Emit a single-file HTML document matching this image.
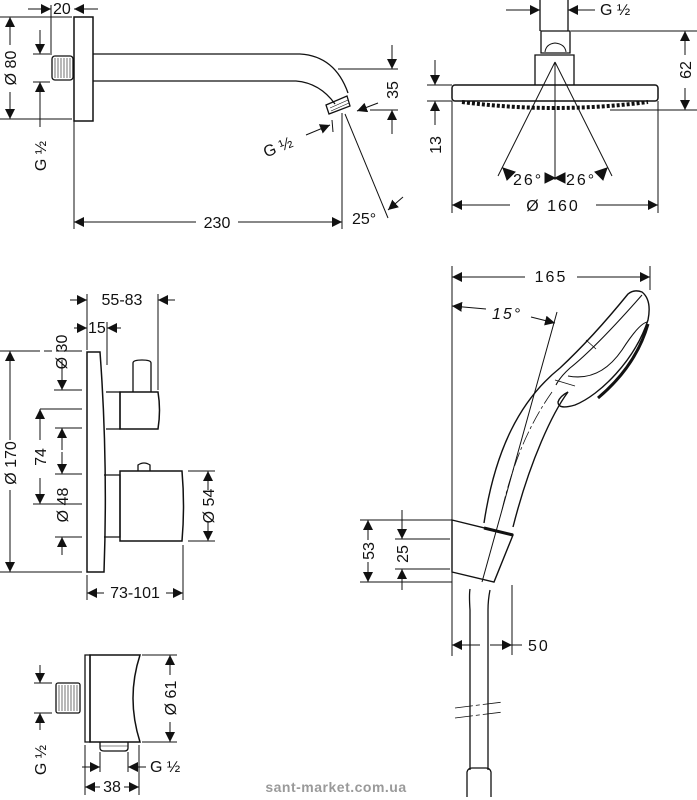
<!DOCTYPE html>
<html><head><meta charset="utf-8"><style>
html,body{margin:0;padding:0;background:#fff;}
svg{display:block;}
text{font-family:"Liberation Sans","DejaVu Sans",sans-serif;fill:#111;}
</style></head><body>
<svg width="697" height="800" viewBox="0 0 697 800" xmlns="http://www.w3.org/2000/svg">
<defs>
<marker id="a" viewBox="0 0 10 10" refX="10" refY="5" markerWidth="10" markerHeight="10" markerUnits="userSpaceOnUse" orient="auto-start-reverse"><path d="M0,0L10,5L0,10Z" fill="#111"/></marker>
</defs>
<g stroke="#111" stroke-width="1" fill="none">
<!-- ===== Wall arm ===== -->
<rect x="74" y="17" width="19" height="104" stroke-width="1.5"/>
<rect x="52" y="56" width="21" height="24" rx="3" stroke-width="1.3"/>
<path d="M55,58v20M58,58v20M61,58v20M64,58v20M67,58v20M70,58v20" stroke-width="0.6"/>
<path d="M93,54H300Q335,56 348,93" stroke-width="1.3"/>
<path d="M93,81H296Q320,83 335,104" stroke-width="1.3"/>
<path d="M326,105L347,96L350,106L329,114Z" stroke-width="1.3"/>
<path d="M330,108l18,-8M331,111l18,-8" stroke-width="0.6"/>
<line x1="28" y1="9" x2="51" y2="9" marker-end="url(#a)"/>
<line x1="98" y1="9" x2="74" y2="9" marker-end="url(#a)"/>
<line x1="51" y1="5" x2="51" y2="55"/>
<line x1="0" y1="17" x2="72" y2="17"/><line x1="0" y1="119" x2="72" y2="119"/>
<line x1="10" y1="45" x2="10" y2="17" marker-end="url(#a)"/>
<line x1="10" y1="92" x2="10" y2="119" marker-end="url(#a)"/>
<line x1="40" y1="30" x2="40" y2="54" marker-end="url(#a)"/>
<line x1="40" y1="127" x2="40" y2="82" marker-end="url(#a)"/>
<line x1="33" y1="54" x2="50" y2="54"/><line x1="33" y1="82" x2="50" y2="82"/>
<line x1="74" y1="121" x2="74" y2="229"/><line x1="342" y1="113" x2="342" y2="229"/>
<line x1="196" y1="222" x2="74" y2="222" marker-end="url(#a)"/>
<line x1="238" y1="222" x2="342" y2="222" marker-end="url(#a)"/>
<line x1="338" y1="69" x2="398" y2="69"/><line x1="370" y1="110" x2="398" y2="110"/>
<line x1="392" y1="45" x2="392" y2="69" marker-end="url(#a)"/>
<line x1="392" y1="134" x2="392" y2="110" marker-end="url(#a)"/>
<line x1="378" y1="103" x2="357" y2="111" marker-end="url(#a)"/>
<line x1="306" y1="135" x2="330" y2="125" marker-end="url(#a)"/>
<line x1="332" y1="120" x2="333" y2="132"/>
<line x1="345" y1="114" x2="388" y2="218"/>
<line x1="403" y1="197" x2="388" y2="210" marker-end="url(#a)"/>
<!-- ===== Head shower ===== -->
<path d="M540,0V31M568,0V31" stroke-width="1.3"/>
<path d="M541,31H570V53H541Z" stroke-width="1.3"/>
<path d="M545,52Q546,44 555,43Q565,44 566,52" stroke-width="1"/>
<path d="M535,85V55H574V85" stroke-width="1.3"/>
<rect x="452" y="85" width="206" height="16" rx="3" stroke-width="1.5"/>
<path d="M462,102Q555,114 648,102" stroke-width="4" stroke-dasharray="3 2"/>
<line x1="506" y1="10" x2="540" y2="10" marker-end="url(#a)"/>
<line x1="595" y1="10" x2="568" y2="10" marker-end="url(#a)"/>
<line x1="571" y1="31" x2="697" y2="31"/><line x1="610" y1="110" x2="697" y2="110"/>
<line x1="685" y1="55" x2="685" y2="31" marker-end="url(#a)"/>
<line x1="685" y1="88" x2="685" y2="110" marker-end="url(#a)"/>
<line x1="427" y1="85" x2="452" y2="85"/><line x1="427" y1="101" x2="452" y2="101"/>
<line x1="435" y1="60" x2="435" y2="85" marker-end="url(#a)"/>
<line x1="435" y1="125" x2="435" y2="101" marker-end="url(#a)"/>
<line x1="555" y1="62" x2="498" y2="176"/><line x1="555" y1="62" x2="612" y2="176"/>
<line x1="555" y1="62" x2="555" y2="180"/>
<path d="M503,168l12,4l-8,8Z" fill="#111"/><path d="M607,168l-12,4l8,8Z" fill="#111"/>
<path d="M545,173l10,5l-10,5Z M565,173l-10,5l10,5Z" fill="#111"/>
<line x1="452" y1="101" x2="452" y2="213"/><line x1="658" y1="101" x2="658" y2="213"/>
<line x1="510" y1="205" x2="452" y2="205" marker-end="url(#a)"/>
<line x1="596" y1="205" x2="658" y2="205" marker-end="url(#a)"/>
<!-- ===== Thermostat ===== -->
<path d="M87,352H100Q108,460 104,572H87Z" stroke-width="1.5"/>
<path d="M106,392H120V429H106" stroke-width="1.3"/>
<path d="M120,392H158Q161,410 158,429H120Z" stroke-width="1.5"/>
<path d="M133,392V363Q133,360 142,360Q151,360 151,363V392" stroke-width="1.3"/>
<path d="M104,475H120V537H104" stroke-width="1.3"/>
<path d="M120,471H182Q185,506 182,541H120Z" stroke-width="1.5"/>
<path d="M138,471V465Q144,461 150,465V471" stroke-width="1.3"/>
<line x1="87" y1="294" x2="87" y2="350"/><line x1="158" y1="294" x2="158" y2="390"/>
<line x1="107" y1="322" x2="107" y2="365"/>
<line x1="70" y1="300" x2="87" y2="300" marker-end="url(#a)"/>
<line x1="175" y1="300" x2="158" y2="300" marker-end="url(#a)"/>
<line x1="74" y1="328" x2="87" y2="328" marker-end="url(#a)"/>
<line x1="121" y1="328" x2="107" y2="328" marker-end="url(#a)"/>
<line x1="0" y1="351" x2="82" y2="351" stroke-dasharray="40 4 8 4"/>
<line x1="0" y1="572" x2="82" y2="572"/>
<line x1="10" y1="440" x2="10" y2="351" marker-end="url(#a)"/>
<line x1="10" y1="490" x2="10" y2="572" marker-end="url(#a)"/>
<line x1="54" y1="390" x2="82" y2="390"/>
<line x1="62" y1="360" x2="62" y2="390" marker-end="url(#a)"/>
<line x1="40" y1="409" x2="82" y2="409"/><line x1="33" y1="504" x2="82" y2="504"/>
<line x1="40" y1="440" x2="40" y2="409" marker-end="url(#a)"/>
<line x1="40" y1="478" x2="40" y2="504" marker-end="url(#a)"/>
<line x1="55" y1="428" x2="82" y2="428"/><line x1="55" y1="474" x2="82" y2="474"/>
<line x1="62" y1="450" x2="62" y2="428" marker-end="url(#a)"/>
<line x1="62" y1="452" x2="62" y2="474" marker-end="url(#a)"/>
<line x1="55" y1="537" x2="82" y2="537"/>
<line x1="62" y1="555" x2="62" y2="537" marker-end="url(#a)"/>
<line x1="188" y1="471" x2="215" y2="471"/><line x1="188" y1="541" x2="215" y2="541"/>
<line x1="208" y1="490" x2="208" y2="471" marker-end="url(#a)"/>
<line x1="208" y1="522" x2="208" y2="541" marker-end="url(#a)"/>
<line x1="87" y1="575" x2="87" y2="600"/><line x1="183" y1="545" x2="183" y2="600"/>
<line x1="104" y1="593" x2="87" y2="593" marker-end="url(#a)"/>
<line x1="166" y1="593" x2="183" y2="593" marker-end="url(#a)"/>
<!-- ===== Outlet ===== -->
<path d="M85,655H90V742H85Z" stroke-width="1.3"/>
<path d="M90,655H140Q126,698 140,742H90Z" stroke-width="1.5"/>
<rect x="56" y="683" width="24" height="30" rx="2" stroke-width="1.3"/>
<path d="M59,685v26M62,685v26M65,685v26M68,685v26M71,685v26M74,685v26M77,685v26" stroke-width="0.6"/>
<path d="M100,742V748Q100,751 104,751H124Q128,751 128,748V742" stroke-width="1.3"/>
<line x1="100" y1="746" x2="128" y2="746" stroke-width="0.6"/>
<line x1="34" y1="683" x2="52" y2="683"/><line x1="34" y1="713" x2="52" y2="713"/>
<line x1="40" y1="665" x2="40" y2="683" marker-end="url(#a)"/>
<line x1="40" y1="730" x2="40" y2="713" marker-end="url(#a)"/>
<line x1="142" y1="655" x2="177" y2="655"/><line x1="142" y1="742" x2="177" y2="742"/>
<line x1="170" y1="675" x2="170" y2="655" marker-end="url(#a)"/>
<line x1="170" y1="722" x2="170" y2="742" marker-end="url(#a)"/>
<line x1="85" y1="745" x2="85" y2="795"/><line x1="139" y1="745" x2="139" y2="795"/>
<line x1="100" y1="752" x2="100" y2="772"/><line x1="128" y1="752" x2="128" y2="772"/>
<line x1="82" y1="767" x2="100" y2="767" marker-end="url(#a)"/>
<line x1="146" y1="767" x2="128" y2="767" marker-end="url(#a)"/>
<line x1="100" y1="787" x2="85" y2="787" marker-end="url(#a)"/>
<line x1="124" y1="787" x2="139" y2="787" marker-end="url(#a)"/>
<!-- ===== Hand shower ===== -->
<line x1="452" y1="266" x2="452" y2="656"/><line x1="650" y1="266" x2="650" y2="290"/>
<line x1="525" y1="277" x2="452" y2="277" marker-end="url(#a)"/>
<line x1="577" y1="277" x2="650" y2="277" marker-end="url(#a)"/>
<line x1="486" y1="309" x2="452" y2="306" marker-end="url(#a)"/>
<line x1="531" y1="317" x2="555" y2="323" marker-end="url(#a)"/>
<line x1="557" y1="312" x2="482" y2="582"/>
<path d="M484,523C495,450 520,400 560,368C590,340 615,310 628,294Q634,289 642,292Q652,300 648,320C635,360 600,395 575,405Q558,410 558,402Q560,396 568,392C553,412 530,460 513,527" stroke-width="1.4"/>
<path d="M642,295C620,320 590,352 570,368Q560,377 556,385" stroke-width="1.1"/>
<path d="M568,376Q600,382 622,350Q640,322 648,322" stroke-width="1.1"/>
<path d="M648,324Q636,366 598,398" stroke-width="3"/>
<path d="M586,340l10,9M555,380l20,6" stroke-width="0.8"/>
<path d="M552,392Q518,440 502,510" stroke-width="0.8" stroke-dasharray="14 3 3 3"/>
<path d="M452,520L513,535L494,582L452,572Z" stroke-width="1.4"/>
<path d="M484,528L513,535" stroke-width="3"/>
<path d="M470,589Q469,595 470,610V770M490,590Q488,600 488,610V770" stroke-width="1.3"/>
<path d="M455,708l48,-6M455,718l48,-6" stroke-width="0.8" stroke-dasharray="18 3 4 3"/>
<path d="M467,797V772Q468,768 472,768H486Q490,768 491,772V797" stroke-width="1.3"/>
<line x1="360" y1="520" x2="452" y2="520"/><line x1="360" y1="582" x2="452" y2="582"/>
<line x1="395" y1="539" x2="450" y2="539"/><line x1="395" y1="569" x2="450" y2="569"/>
<line x1="368" y1="540" x2="368" y2="520" marker-end="url(#a)"/>
<line x1="368" y1="562" x2="368" y2="582" marker-end="url(#a)"/>
<line x1="402" y1="510" x2="402" y2="539" marker-end="url(#a)"/>
<line x1="402" y1="590" x2="402" y2="569" marker-end="url(#a)"/>
<line x1="512" y1="585" x2="512" y2="655"/>
<line x1="480" y1="645" x2="452" y2="645" marker-end="url(#a)"/>
<line x1="490" y1="645" x2="512" y2="645" marker-end="url(#a)"/>
<line x1="512" y1="645" x2="522" y2="645"/>
</g>
<g font-size="16">
<text x="53" y="14">20</text>
<text transform="translate(16,68) rotate(-90)" text-anchor="middle">Ø 80</text>
<text transform="translate(46,156) rotate(-90)" text-anchor="middle">G ½</text>
<text x="217" y="228" text-anchor="middle">230</text>
<text transform="translate(398,90) rotate(-90)" text-anchor="middle">35</text>
<text transform="translate(280,152) rotate(-22)" text-anchor="middle">G ½</text>
<text x="352" y="224">25°</text>
<text x="600" y="15">G ½</text>
<text transform="translate(691,70) rotate(-90)" text-anchor="middle">62</text>
<text transform="translate(441,145) rotate(-90)" text-anchor="middle">13</text>
<text x="513" y="185" letter-spacing="2">26°</text><text x="566" y="185" letter-spacing="2">26°</text>
<text x="553" y="211" text-anchor="middle" letter-spacing="2">Ø 160</text>
<text x="122" y="305" text-anchor="middle">55-83</text>
<text x="88" y="333">15</text>
<text transform="translate(67,352) rotate(-90)" text-anchor="middle">Ø 30</text>
<text transform="translate(16,463) rotate(-90)" text-anchor="middle">Ø 170</text>
<text transform="translate(46,457) rotate(-90)" text-anchor="middle">74</text>
<text transform="translate(68,505) rotate(-90)" text-anchor="middle">Ø 48</text>
<text transform="translate(214,506) rotate(-90)" text-anchor="middle">Ø 54</text>
<text x="135" y="598" text-anchor="middle">73-101</text>
<text transform="translate(46,760) rotate(-90)" text-anchor="middle">G ½</text>
<text transform="translate(176,698) rotate(-90)" text-anchor="middle">Ø 61</text>
<text x="150" y="772">G ½</text>
<text x="112" y="792" text-anchor="middle">38</text>
<text x="551" y="282" text-anchor="middle" letter-spacing="2">165</text>
<text x="492" y="319" font-style="italic" letter-spacing="2">15°</text>
<text transform="translate(374,551) rotate(-90)" text-anchor="middle">53</text>
<text transform="translate(408,554) rotate(-90)" text-anchor="middle">25</text>
<text x="528" y="651" letter-spacing="2">50</text>
<text x="336" y="792" text-anchor="middle" font-size="14" font-weight="bold" style="fill:#9a9a9a" letter-spacing="0.5">sant-market.com.ua</text>
</g>
</svg>
</body></html>
